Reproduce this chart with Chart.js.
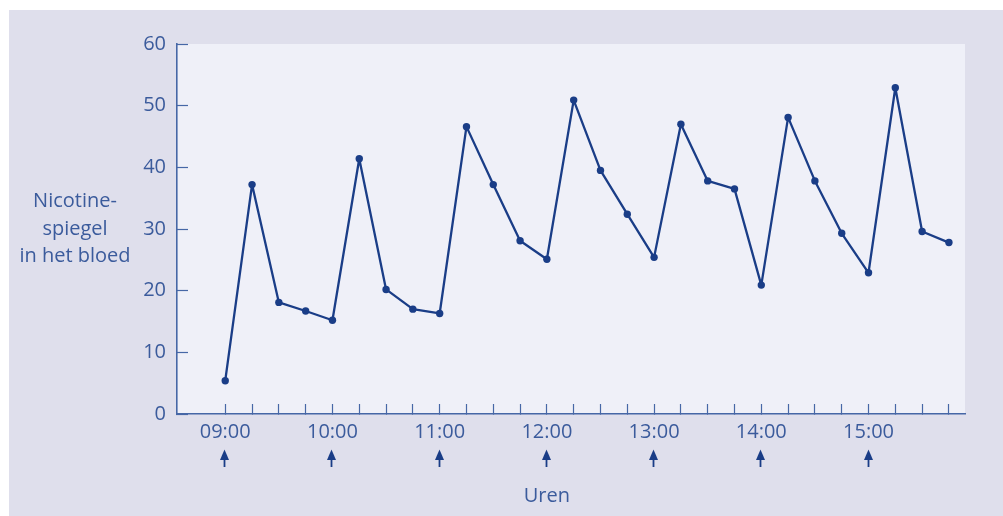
<!DOCTYPE html>
<html>
<head>
<meta charset="utf-8">
<script src="https://cdn.jsdelivr.net/npm/chart.js@4"></script>
<style>
  html, body { margin: 0; padding: 0; background: #fff; }
  #panel {
    position: absolute; left: 9px; top: 10px;
    width: 994px; height: 506px;
    background: #dfdfec;
  }
</style>
</head>
<body>
<div id="panel"><canvas id="nicotineChart" width="994" height="506"></canvas></div>
<script>
// data, one point per quarter hour
const times = ['09:00', '09:15', '09:30', '09:45', '10:00', '10:15', '10:30', '10:45',
  '11:00', '11:15', '11:30', '11:45', '12:00', '12:15', '12:30', '12:45',
  '13:00', '13:15', '13:30', '13:45', '14:00', '14:15', '14:30', '14:45',
  '15:00', '15:15', '15:30', '15:45'];
const nicotine = [5.4, 37.2, 18.1, 16.7, 15.2, 41.4, 20.2, 17.0,
  16.3, 46.6, 37.2, 28.1, 25.1, 50.9, 39.5, 32.4,
  25.4, 47.0, 37.8, 36.5, 20.9, 48.1, 37.8, 29.3,
  22.9, 52.9, 29.6, 27.8];
const yTicks = [0, 10, 20, 30, 40, 50, 60];
const hourLabels = ['09:00', '10:00', '11:00', '12:00', '13:00', '14:00', '15:00'];
const cigarettes = ['09:00', '10:00', '11:00', '12:00', '13:00', '14:00', '15:00'];  // arrows
const yTitle = ['Nicotine-', 'spiegel', 'in het bloed'];
const xTitle = 'Uren';

const textColor = '#3b5b9c';
const axisColor = '#4667a6';
const lineColor = '#1a3d87';
const fontFamily = '"Open Sans", "Noto Sans", sans-serif';

// background of plot area, y title, arrows, x title
const decorations = {
  id: 'decorations',
  beforeDraw(chart) {
    const { ctx, chartArea } = chart;
    ctx.save();
    ctx.fillStyle = '#eff0f8';
    ctx.fillRect(chartArea.left, chartArea.top, chartArea.right - chartArea.left, chartArea.bottom - chartArea.top);
    ctx.restore();
  },
  afterDraw(chart) {
    const { ctx, chartArea } = chart;
    const xs = chart.scales.x;
    ctx.save();
    ctx.fillStyle = textColor;
    ctx.font = '20px ' + fontFamily;
    ctx.textAlign = 'center';
    ctx.textBaseline = 'middle';

    const midY = (chartArea.top + chartArea.bottom) / 2;
    yTitle.forEach((line, i) => {
      ctx.fillText(line, 66, midY + (i - 1) * 27.5);
    });

    const ux = xs.getPixelForValue(times.indexOf('12:00'));
    ctx.fillText(xTitle, ux, xs.top + 82);

    // cigarette arrows
    ctx.strokeStyle = lineColor;
    ctx.fillStyle = lineColor;
    ctx.lineWidth = 1.8;
    cigarettes.forEach(t => {
      const px = Math.round(xs.getPixelForValue(times.indexOf(t))) - 0.5;
      ctx.beginPath();
      ctx.moveTo(px, xs.top + 44);
      ctx.lineTo(px, xs.top + 53);
      ctx.stroke();
      ctx.beginPath();
      ctx.moveTo(px, xs.top + 35.5);
      ctx.lineTo(px - 4.5, xs.top + 46);
      ctx.lineTo(px + 4.5, xs.top + 46);
      ctx.closePath();
      ctx.fill();
    });
    ctx.restore();
  }
};

const ctx = document.getElementById('nicotineChart').getContext('2d');
const chart = new Chart(ctx, {
  type: 'line',
  data: {
    datasets: [{
      label: 'Nicotinespiegel',
      data: nicotine.map((v, i) => ({ x: i, y: v })),
      borderColor: lineColor,
      backgroundColor: lineColor,
      borderWidth: 2.3,
      borderJoinStyle: 'round',
      pointRadius: 3.7,
      pointBorderWidth: 0,
      tension: 0
    }]
  },
  options: {
    responsive: false,
    animation: false,
    layout: { padding: { left: 0, top: 33, right: 38, bottom: 0 } },
    plugins: {
      legend: { display: false },
      tooltip: { enabled: false }
    },
    scales: {
      x: {
        type: 'linear',
        min: -1.8,
        max: 27.6,
        afterBuildTicks: scale => {
          scale.ticks = times.map((t, i) => ({ value: i }));
        },
        afterFit: scale => { scale.height = 102; },
        grid: {
          drawOnChartArea: false,
          color: axisColor,
          tickLength: -10,
          tickWidth: 1.2
        },
        border: { color: axisColor, width: 1.6 },
        ticks: {
          autoSkip: false,
          maxRotation: 0,
          padding: 16,
          color: textColor,
          font: { family: fontFamily, size: 20 },
          callback: value => hourLabels.includes(times[value]) ? times[value] : ''
        }
      },
      y: {
        min: 0,
        max: 60,
        afterBuildTicks: scale => {
          scale.ticks = yTicks.map(v => ({ value: v }));
        },
        afterFit: scale => { scale.width = 168; },
        grid: {
          drawOnChartArea: false,
          color: axisColor,
          tickLength: -11,
          tickWidth: 1.2
        },
        border: { color: axisColor, width: 1.6 },
        ticks: {
          padding: 22,
          color: textColor,
          font: { family: fontFamily, size: 20 }
        }
      }
    }
  },
  plugins: [decorations]
});
</script>
</body>
</html>
